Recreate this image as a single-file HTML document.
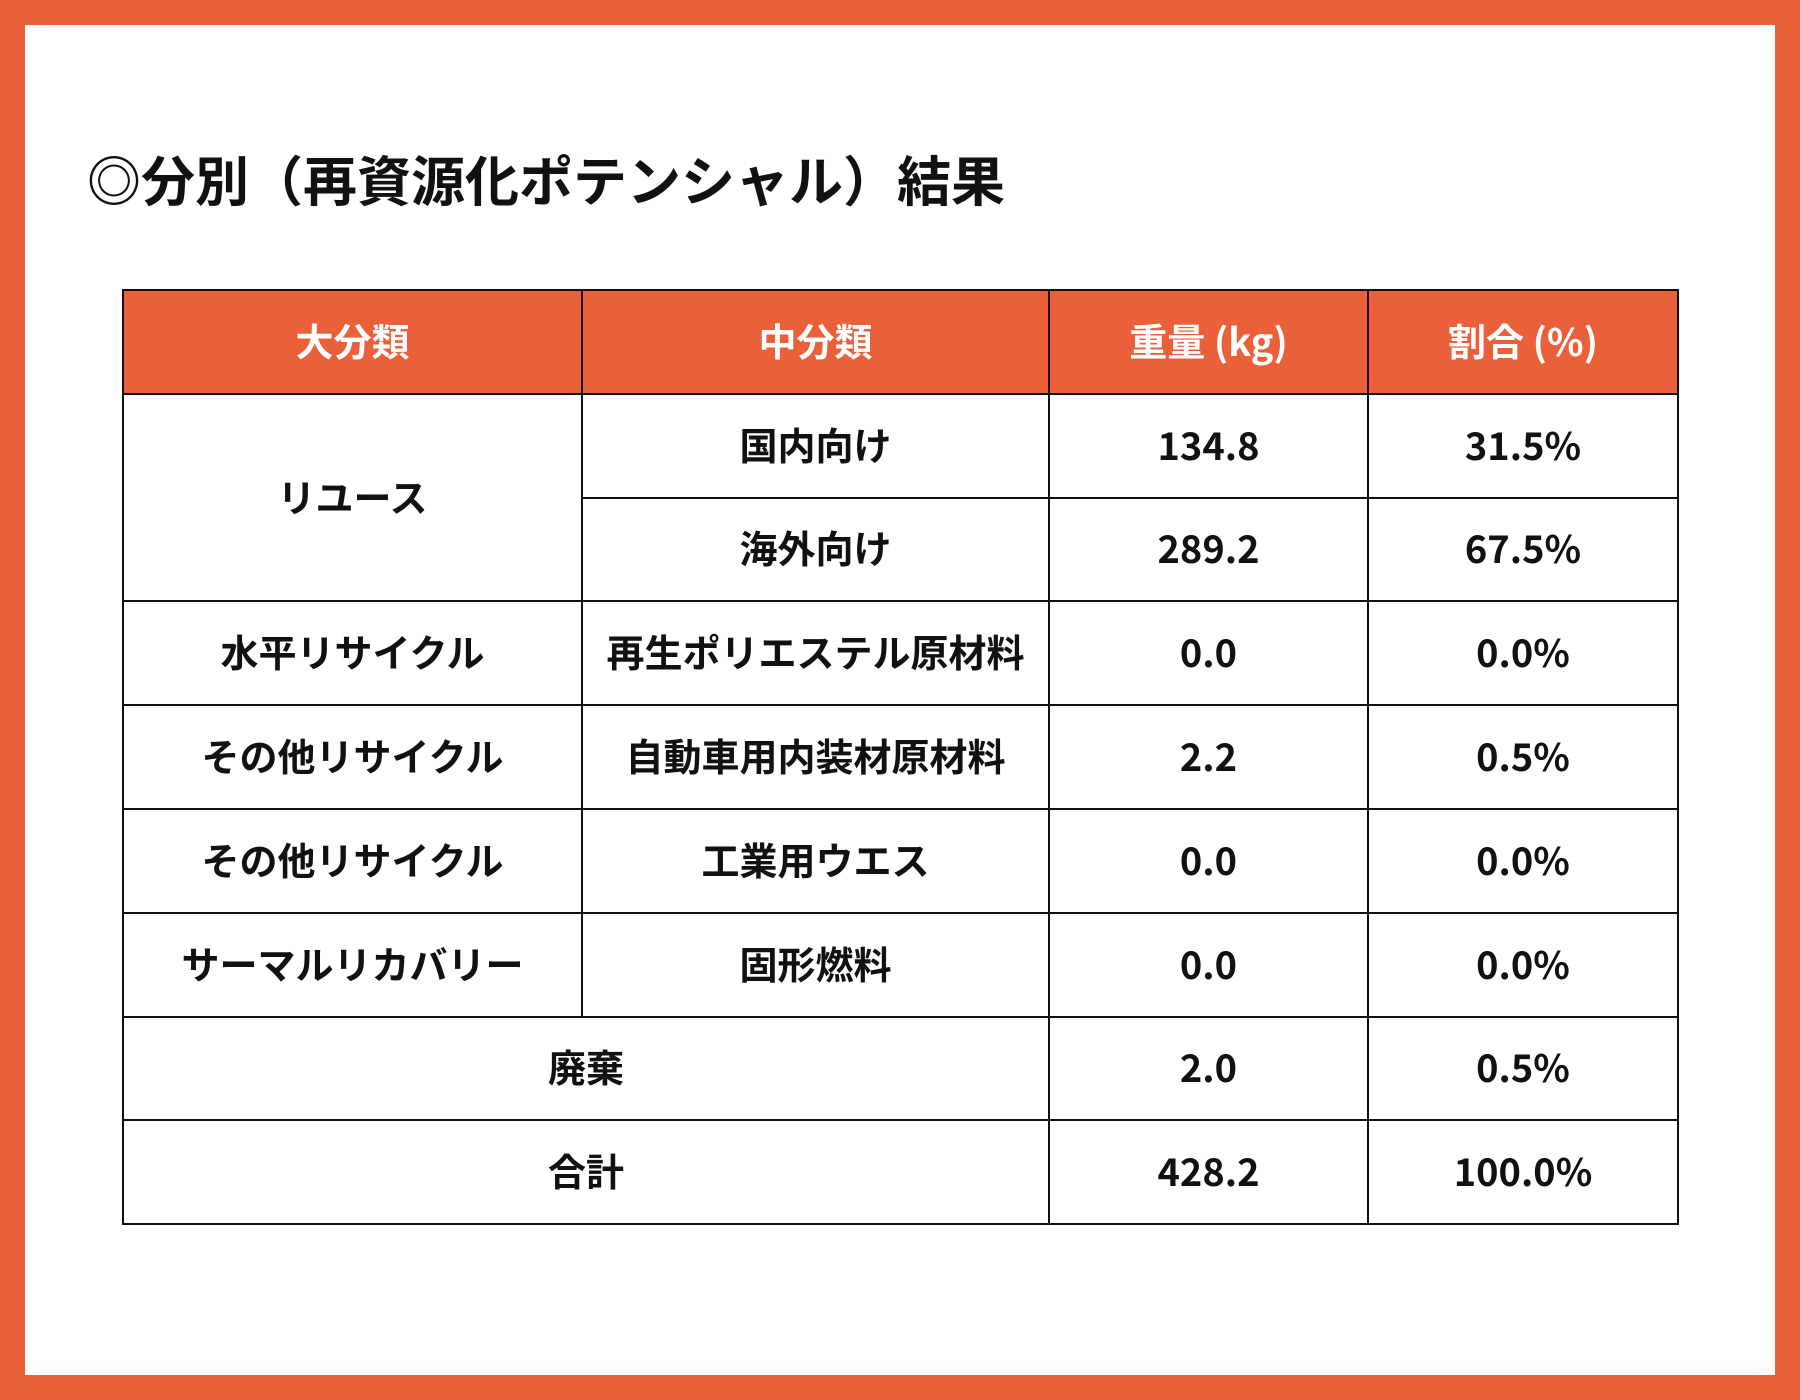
<!DOCTYPE html>
<html><head><meta charset="utf-8">
<style>
html,body{margin:0;padding:0}
body{width:1800px;height:1400px;position:relative;background:#E9603B;font-family:"Noto Sans CJK JP","Liberation Sans",sans-serif;overflow:hidden}
.inner{position:absolute;left:25px;top:25px;width:1750px;height:1350px;background:#fff}
.title{position:absolute;left:87px;top:143px;font-size:54px;font-weight:bold;color:#111;line-height:70px;white-space:nowrap}
table{position:absolute;left:122px;top:289px;border-collapse:collapse;width:1555px;table-layout:fixed}
td,th{border:2px solid #111;height:103.8px;padding:0 0 4px 0;box-sizing:border-box;text-align:center;vertical-align:middle;font-size:38px;font-weight:bold;color:#111;white-space:nowrap;line-height:1}
th{background:#E9603B;color:#fff}
</style></head><body>
<div class="inner"></div>
<div class="title">◎分別（再資源化ポテンシャル）結果</div>
<table>
<colgroup><col style="width:459px"><col style="width:467px"><col style="width:319px"><col style="width:310px"></colgroup>
<tr><th>大分類</th><th>中分類</th><th>重量 (kg)</th><th>割合 (%)</th></tr>
<tr><td rowspan="2">リユース</td><td>国内向け</td><td>134.8</td><td>31.5%</td></tr>
<tr><td>海外向け</td><td>289.2</td><td>67.5%</td></tr>
<tr><td>水平リサイクル</td><td>再生ポリエステル原材料</td><td>0.0</td><td>0.0%</td></tr>
<tr><td>その他リサイクル</td><td>自動車用内装材原材料</td><td>2.2</td><td>0.5%</td></tr>
<tr><td>その他リサイクル</td><td>工業用ウエス</td><td>0.0</td><td>0.0%</td></tr>
<tr><td>サーマルリカバリー</td><td>固形燃料</td><td>0.0</td><td>0.0%</td></tr>
<tr><td colspan="2">廃棄</td><td>2.0</td><td>0.5%</td></tr>
<tr><td colspan="2">合計</td><td>428.2</td><td>100.0%</td></tr>
</table>
</body></html>
